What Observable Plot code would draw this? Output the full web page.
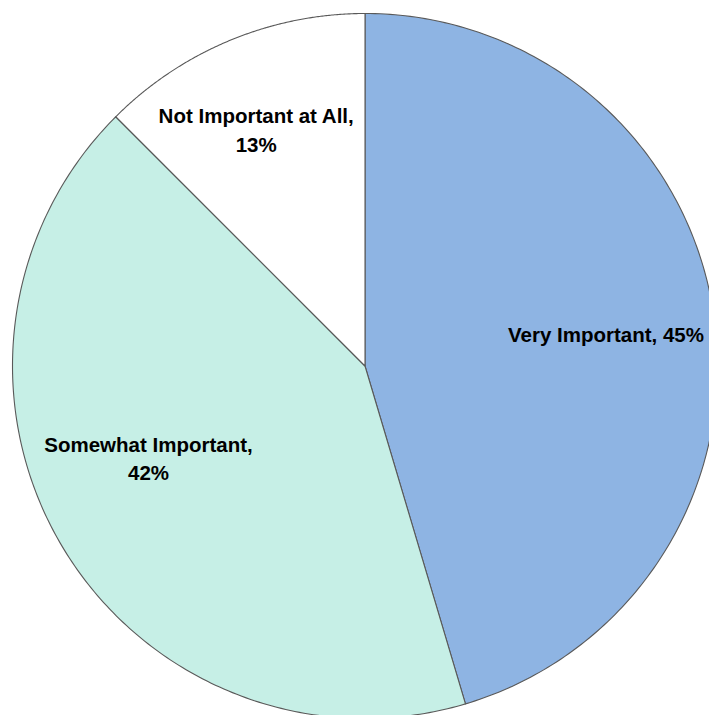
<!DOCTYPE html>
<html><head><meta charset="utf-8">
<script src="https://cdn.jsdelivr.net/npm/d3@7"></script>
<script src="https://cdn.jsdelivr.net/npm/@observablehq/plot@0.6"></script>
<style>body{margin:0;background:#fff;overflow:hidden}svg{display:block}</style>
</head><body><div id="chart"></div>
<script>
const categories = ["Very Important", "Somewhat Important", "Not Important at All"];
const values = [45.4, 42.1, 12.5];
const colors = ["#8EB4E3", "#C6EFE6", "#FFFFFF"];
const labelTexts = ["Very Important, 45%", "Somewhat Important,\n42%", "Not Important at All,\n13%"];

const pie = d3.pie().sort(null).value(d => d)(values);

// slice outlines in unit-circle coordinates (angle clockwise from top)
const pts = [];
pie.forEach((p, i) => {
  const n = 200;
  pts.push({cat: categories[i], x: 0, y: 0});
  for (let k = 0; k <= n; k++) {
    const a = p.startAngle + (p.endAngle - p.startAngle) * k / n;
    pts.push({cat: categories[i], x: Math.sin(a), y: -Math.cos(a)});
  }
  pts.push({cat: categories[i], x: 0, y: 0});
});

// label anchors: near the mid-angle at a fraction of the radius
const labelR = [0.69, 0.666, 0.741];
const labelShift = [0.008, 0.14, -0.037];
const labels = pie.map((p, i) => {
  const a = (p.startAngle + p.endAngle) / 2 + labelShift[i];
  return {text: labelTexts[i], x: Math.sin(a) * labelR[i], y: -Math.cos(a) * labelR[i]};
});

const chart = Plot.plot({
  width: 709, height: 715,
  margin: 0,
  x: {domain: [-1, 1], range: [12, 717], axis: null},
  y: {domain: [-1, 1], range: [13, 718], axis: null},
  color: {domain: categories, range: colors},
  style: {background: "#fff"},
  marks: [
    Plot.line(pts, {x: "x", y: "y", z: "cat", fill: "cat", stroke: "#595959", strokeWidth: 1.1, curve: "linear"}),
    Plot.text(labels, {
      x: "x", y: "y", text: "text",
      fontFamily: "Liberation Sans", fontWeight: "bold", fontSize: 20.5, fill: "#000",
      lineAnchor: "middle", lineHeight: 1.4
    })
  ]
});
document.getElementById("chart").appendChild(chart);
</script>
</body></html>
